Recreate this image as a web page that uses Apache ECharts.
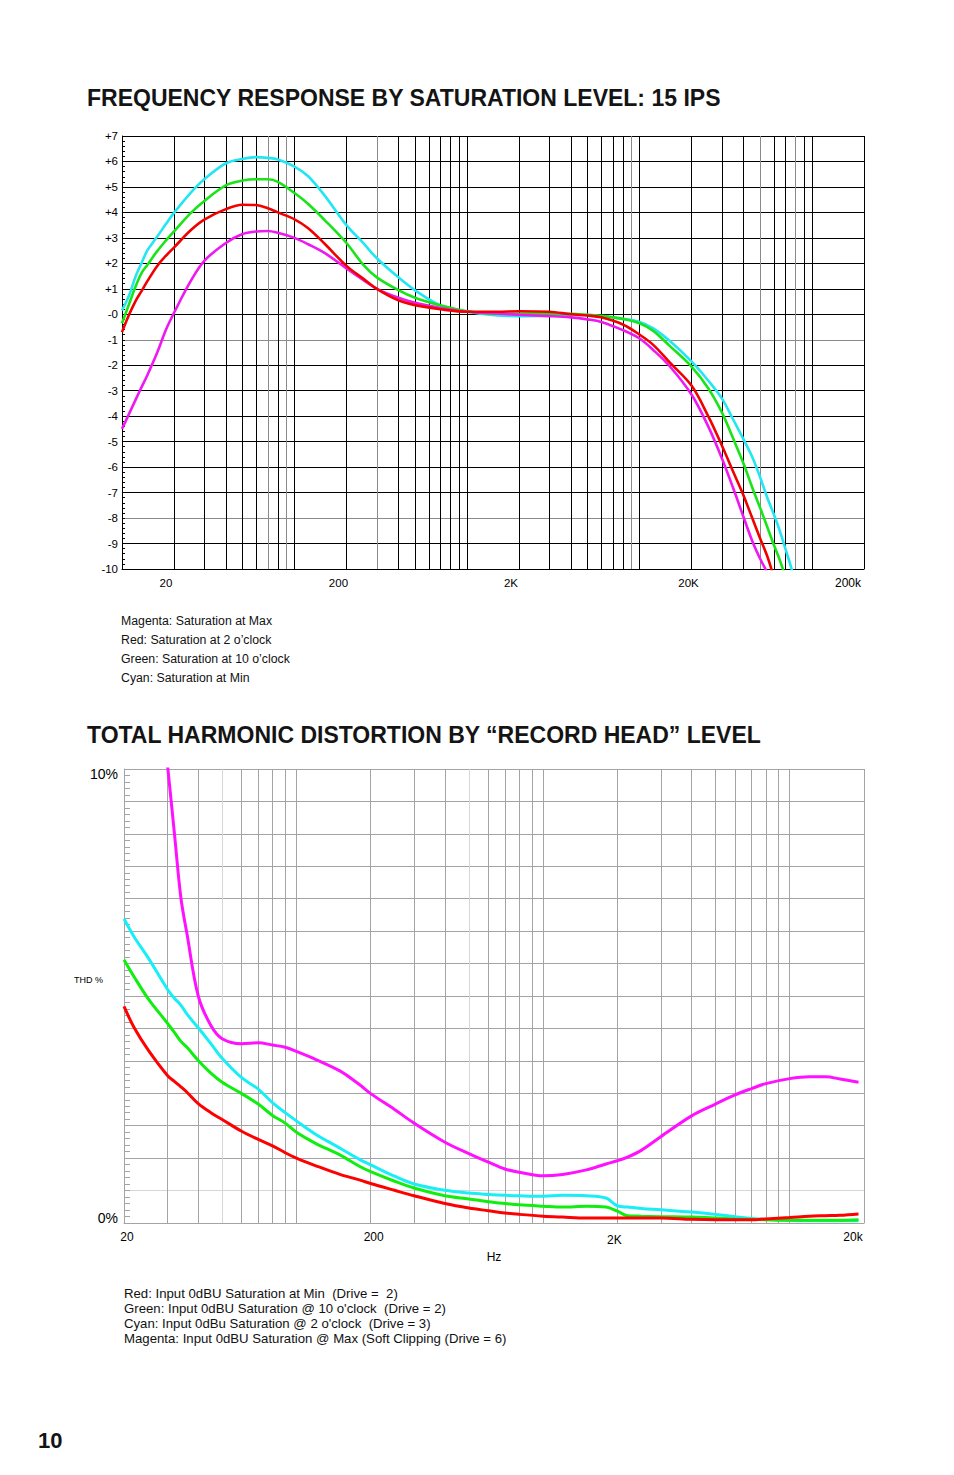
<!DOCTYPE html>
<html>
<head>
<meta charset="utf-8">
<script src="https://cdn.jsdelivr.net/npm/echarts@6/dist/echarts.min.js"></script>
<style>
html,body{margin:0;padding:0;background:#fff;}
#c{width:954px;height:1475px;}
</style>
</head>
<body>
<div id="c"></div>
<script>
// ---------------- Chart 1 : frequency response (dB) ----------------
const frFreqHz = [10, 11, 12, 13, 14, 16, 18, 20, 25, 30, 40, 50, 60, 70, 80, 100, 120, 150, 200, 250, 300, 400, 500, 700,
  1000, 1500, 2000, 3000, 4000, 5000, 6000, 8000, 10000, 12000, 15000, 20000, 25000, 30000, 35000, 40000, 45000,
  50000, 55000, 60000, 65000, 70000, 75000, 80000, 90000];
const frSatMin = [0.15, 0.75, 1.49, 2.02, 2.5, 3.05, 3.55, 3.98, 4.77, 5.3, 5.93, 6.1, 6.17, 6.14, 6.08, 5.8, 5.42, 4.65, 3.5, 2.8, 2.2, 1.45, 0.94, 0.35,
  0.1, -0.05, -0.07, -0.05, -0.02, -0.03, -0.08, -0.18, -0.3, -0.55, -1.05, -1.85, -2.6, -3.3, -4.15, -4.9, -5.6,
  -6.4, -7.2, -7.85, -8.5, -9.2, -9.85, -10.5, -11.6];
const frSat10 = [-0.35, 0.41, 1.1, 1.63, 1.93, 2.48, 2.9, 3.25, 3.97, 4.45, 5.06, 5.25, 5.3, 5.3, 5.2, 4.76, 4.33, 3.69, 2.8, 1.95, 1.45, 0.95, 0.65, 0.35,
  0.12, 0.02, 0.02, 0.03, 0.02, -0.02, -0.06, -0.18, -0.35, -0.65, -1.25, -2.05, -2.9, -3.85, -4.9, -5.85, -6.8,
  -7.6, -8.35, -9.05, -9.65, -10.3, -11, -11.6, -12.8];
const frSat2 = [-0.7, -0.01, 0.53, 0.92, 1.29, 1.9, 2.3, 2.62, 3.3, 3.72, 4.13, 4.3, 4.29, 4.16, 4.0, 3.73, 3.38, 2.76, 1.9, 1.4, 1.0, 0.55, 0.36, 0.2,
  0.1, 0.1, 0.12, 0.1, 0.0, -0.05, -0.12, -0.4, -0.8, -1.2, -1.9, -2.8, -4.0, -5.15, -6.2, -7.1, -8.0,
  -8.8, -9.5, -10.3, -11, -11.7, -12.3, -12.9, -14];
const frSatMax = [-4.5, -3.9, -3.35, -2.85, -2.4, -1.5, -0.6, 0.05, 1.3, 2.1, 2.8, 3.15, 3.25, 3.27, 3.2, 3.0, 2.75, 2.4, 1.8, 1.35, 1.0, 0.65, 0.45, 0.25,
  0.1, 0.03, -0.02, -0.07, -0.12, -0.2, -0.3, -0.62, -0.95, -1.4, -2.05, -3.15, -4.4, -5.65, -6.85, -7.95, -8.9,
  -9.6, -10.15, -10.9, -11.5, -12.1, -12.7, -13.2, -14.2];
const frGridHz = [10, 20, 30, 40, 50, 60, 70, 80, 90, 100, 200, 300, 400, 500, 600, 700, 800, 900, 1000,
  2000, 3000, 4000, 5000, 6000, 7000, 8000, 9000, 10000, 20000, 30000, 40000, 50000, 60000, 70000, 80000, 90000,
  100000, 200000];
const frXLabelHz = [20, 200, 2000, 20000, 200000];
const frXLabels = ['20', '200', '2K', '20K', '200k'];
const frYMin = -10, frYMax = 7;

// ---------------- Chart 2 : THD (%) ----------------
const thdFreqHz = [20, 22, 25, 30, 32, 34, 36, 40, 45, 50, 60, 70, 80, 90, 100, 120, 150, 180, 200, 250, 300, 400, 500, 600,
  700, 800, 1000, 1200, 1500, 1800, 2000, 2200, 2500, 3000, 4000, 5000, 6000, 7000, 8000, 10000, 12000, 14000, 16000, 19000];
const thdRed = [4.77, 4.3, 3.82, 3.25, 3.12, 3.0, 2.88, 2.63, 2.43, 2.28, 2.02, 1.84, 1.7, 1.55, 1.43, 1.26, 1.07, 0.95, 0.87, 0.72, 0.6, 0.43, 0.33, 0.27,
  0.22, 0.19, 0.15, 0.13, 0.11, 0.11, 0.11, 0.11, 0.11, 0.11, 0.08, 0.07, 0.07, 0.07, 0.09, 0.12, 0.15, 0.16, 0.17, 0.2];
const thdGreen = [5.8, 5.42, 4.95, 4.4, 4.2, 4.0, 3.87, 3.58, 3.3, 3.1, 2.85, 2.62, 2.37, 2.2, 2.0, 1.75, 1.5, 1.25, 1.13, 0.92, 0.77, 0.6, 0.53, 0.47,
  0.43, 0.4, 0.37, 0.35, 0.37, 0.35, 0.26, 0.16, 0.15, 0.14, 0.13, 0.11, 0.09, 0.08, 0.07, 0.06, 0.06, 0.06, 0.06, 0.07];
const thdCyan = [6.7, 6.3, 5.85, 5.15, 4.95, 4.8, 4.6, 4.3, 3.95, 3.63, 3.2, 2.95, 2.65, 2.43, 2.25, 1.95, 1.65, 1.4, 1.28, 1.03, 0.86, 0.72, 0.66, 0.63,
  0.61, 0.6, 0.59, 0.61, 0.6, 0.55, 0.38, 0.35, 0.32, 0.29, 0.24, 0.19, 0.14, 0.1, 0.08, 0.06, 0.05, 0.05, 0.05, 0.05];
const thdMagenta = [null, null, null, 10.1, 8.6, 7.17, 6.37, 5.0, 4.35, 4.06, 3.95, 3.97, 3.92, 3.87, 3.78, 3.6, 3.35, 3.05, 2.85, 2.5, 2.2, 1.78, 1.53, 1.34,
  1.19, 1.12, 1.04, 1.07, 1.17, 1.3, 1.37, 1.45, 1.6, 1.9, 2.36, 2.62, 2.82, 2.96, 3.07, 3.18, 3.22, 3.22, 3.17, 3.1];
const thdGridHz = [20, 30, 40, 50, 60, 70, 80, 90, 100, 200, 300, 400, 500, 600, 700, 800, 900, 1000,
  2000, 3000, 4000, 5000, 6000, 7000, 8000, 9000, 10000, 20000];
const thdXLabelHz = [20, 200, 2000, 20000];
const thdXLabels = ['20', '200', '2K', '20k'];
const thdYMax = 10, thdYDivisions = 14;
const thdYLabels = ['0%', '10%'];

// ---------------- Texts ----------------
const title1 = 'FREQUENCY RESPONSE BY SATURATION LEVEL: 15 IPS';
const title2 = 'TOTAL HARMONIC DISTORTION BY \u201CRECORD HEAD\u201D LEVEL';
const legend1 = ['Magenta: Saturation at Max', 'Red: Saturation at 2 o\u2019clock', 'Green: Saturation at 10 o\u2019clock', 'Cyan: Saturation at Min'];
const legend2 = ['Red: Input 0dBU Saturation at Min  (Drive =  2)', 'Green: Input 0dBU Saturation @ 10 o\'clock  (Drive = 2)',
  'Cyan: Input 0dBu Saturation @ 2 o\'clock  (Drive = 3)', 'Magenta: Input 0dBU Saturation @ Max (Soft Clipping (Drive = 6)'];
const thdAxisName = 'THD %';
const thdXName = 'Hz';
const pageNumber = '10';

// ---------------- Build ----------------
const FONT = '"Liberation Sans", Arial, Helvetica, sans-serif';
const lg = Math.log10;
const pair = (fs, vs) => fs.map((f, i) => [lg(f), vs[i]]);
function labelIdx(list, v) {
  for (let i = 0; i < list.length; i++) if (Math.abs(lg(list[i]) - v) < 1e-6) return i;
  return -1;
}
const BLACK = '#000000', DGRAY = '#8a8a8a', G2 = '#a4a4a4', G2L = '#d6d6d6';
const frGrayHz = [70, 90, 300, 9000, 50000, 80000];
const frYTickVals = []; for (let v = frYMin; v <= frYMax; v++) frYTickVals.push(v);
const COLORS = { cyan: '#22e6f2', green: '#18e418', red: '#f20000', magenta: '#f018f0' };

function lineSeries(ax, fs, vs, color, width) {
  return { type: 'line', xAxisIndex: ax, yAxisIndex: ax, data: pair(fs, vs), showSymbol: false, symbol: 'none',
    smooth: 0.35, connectNulls: false, clip: true, silent: true, z: 5,
    lineStyle: { color: color, width: width }, itemStyle: { color: color } };
}

const graphics = [
  { type: 'text', x: 87, y: 98, style: { text: title1, fill: '#141414', fontFamily: FONT, fontWeight: 'bold', fontSize: 23, verticalAlign: 'middle', textVerticalAlign: 'middle' } },
  { type: 'text', x: 87, y: 735, style: { text: title2, fill: '#141414', fontFamily: FONT, fontWeight: 'bold', fontSize: 23, verticalAlign: 'middle', textVerticalAlign: 'middle' } },
  { type: 'text', x: 38, y: 1440, style: { text: pageNumber, fill: '#141414', fontFamily: FONT, fontWeight: 'bold', fontSize: 22, verticalAlign: 'middle', textVerticalAlign: 'middle' } },
  { type: 'text', x: 74, y: 980, style: { text: thdAxisName, fill: '#000', fontFamily: FONT, fontSize: 9, verticalAlign: 'middle', textVerticalAlign: 'middle' } }
];
legend1.forEach((t, i) => graphics.push({ type: 'text', x: 121, y: 621 + i * 19,
  style: { text: t, fill: '#111', fontFamily: FONT, fontSize: 12.3, verticalAlign: 'middle', textVerticalAlign: 'middle' } }));
legend2.forEach((t, i) => graphics.push({ type: 'text', x: 124, y: 1293 + i * 15.3,
  style: { text: t, fill: '#111', fontFamily: FONT, fontSize: 13.2, verticalAlign: 'middle', textVerticalAlign: 'middle' } }));

const option = {
  animation: false,
  backgroundColor: '#ffffff',
  textStyle: { fontFamily: FONT },
  grid: [
    { left: 122, top: 136, width: 742, height: 433, containLabel: false, outerBoundsMode: 'none' },
    { left: 124, top: 769, width: 740, height: 454, containLabel: false, outerBoundsMode: 'none' }
  ],
  xAxis: [
    { gridIndex: 0, type: 'value', min: lg(10), max: lg(200000),
      axisLine: { show: true, onZero: false, lineStyle: { color: BLACK, width: 1 } },
      axisTick: { show: false, customValues: frGridHz.map(lg) },
      splitLine: { show: true, customValues: frGridHz.map(lg), lineStyle: { width: 1, color: frGridHz.map(f => frGrayHz.includes(f) ? DGRAY : BLACK) } },
      axisLabel: { show: true, customValues: frXLabelHz.map(lg), margin: 8, color: '#000', fontSize: 11.5, fontFamily: FONT,
        formatter: v => { const i = labelIdx(frXLabelHz, v); if (i < 0) return ''; return '{' + ['n', 'n', 'n', 'm', 'e'][i] + '|' + frXLabels[i] + '}'; },
        rich: { n: { padding: [0, 16, 0, 0], fontSize: 11.5, fontFamily: FONT, color: '#000' },
                m: { padding: [0, 6, 0, 0], fontSize: 11.5, fontFamily: FONT, color: '#000' },
                e: { padding: [0, 32, 0, 0], fontSize: 12, fontFamily: FONT, color: '#000' } } }
    },
    { gridIndex: 1, type: 'value', min: lg(20), max: lg(20000),
      name: thdXName, nameLocation: 'middle', nameGap: 28, nameTextStyle: { fontSize: 12, color: '#000', fontFamily: FONT },
      axisLine: { show: true, onZero: false, lineStyle: { color: G2, width: 1 } },
      axisTick: { show: false, customValues: thdGridHz.map(lg) },
      splitLine: { show: true, customValues: thdGridHz.map(lg), lineStyle: { width: 1, color: thdGridHz.map(f => (f === 50 || f === 500) ? G2L : G2) } },
      axisLabel: { show: true, customValues: thdXLabelHz.map(lg), margin: 8, color: '#000', fontSize: 12, fontFamily: FONT,
        formatter: v => { const i = labelIdx(thdXLabelHz, v); if (i < 0) return ''; const k = ['a', 'a', 'b', 'c'][i]; return '{' + k + '|' + thdXLabels[i] + '}'; },
        rich: { a: { padding: [0, 0, 0, 6], fontSize: 12, fontFamily: FONT, color: '#000' },
                b: { padding: [3, 6, 0, 0], fontSize: 12, fontFamily: FONT, color: '#000' },
                c: { padding: [0, 22, 0, 0], fontSize: 12, fontFamily: FONT, color: '#000' } } }
    }
  ],
  yAxis: [
    { gridIndex: 0, type: 'value', min: frYMin, max: frYMax, interval: 1,
      axisLine: { show: true, onZero: false, lineStyle: { color: BLACK, width: 1 } },
      axisTick: { show: true, inside: true, length: 3, lineStyle: { color: BLACK } },
      minorTick: { show: true, splitNumber: 5, length: 3, lineStyle: { color: BLACK } },
      splitLine: { show: true, lineStyle: { width: 1, color: frYTickVals.map(v => (v === -1 || v === -8) ? DGRAY : BLACK) } },
      axisLabel: { margin: 4, color: '#000', fontSize: 11.5, fontFamily: FONT,
        formatter: v => v > 0 ? '+' + v : (v === 0 ? '-0' : String(v)) }
    },
    { gridIndex: 1, type: 'value', min: 0, max: thdYMax, interval: thdYMax / thdYDivisions,
      axisLine: { show: true, onZero: false, lineStyle: { color: G2, width: 1 } },
      axisTick: { show: true, inside: true, length: 6, lineStyle: { color: G2 } },
      minorTick: { show: true, splitNumber: 5, length: 6, lineStyle: { color: G2 } },
      splitLine: { show: true, lineStyle: { width: 1, color: [G2, G2L, G2, G2, G2, G2, G2, G2, G2, G2, G2, G2, G2, G2, G2, G2] } },
      axisLabel: { margin: 6, color: '#000', fontSize: 14, fontFamily: FONT,
        formatter: v => v === 0 ? '{b|' + thdYLabels[0] + '}' : (v === thdYMax ? '{t|' + thdYLabels[1] + '}' : ''),
        rich: { t: { padding: [10, 0, 0, 0], fontSize: 14, fontFamily: FONT, color: '#000' },
                b: { padding: [0, 0, 10, 0], fontSize: 14, fontFamily: FONT, color: '#000' } } }
    }
  ],
  series: [
    lineSeries(0, frFreqHz, frSatMin, COLORS.cyan, 2.6),
    lineSeries(0, frFreqHz, frSat10, COLORS.green, 2.6),
    lineSeries(0, frFreqHz, frSatMax, COLORS.magenta, 2.6),
    lineSeries(0, frFreqHz, frSat2, COLORS.red, 2.6),
    lineSeries(1, thdFreqHz, thdCyan, '#18eef6', 3),
    lineSeries(1, thdFreqHz, thdGreen, '#10ee10', 3),
    lineSeries(1, thdFreqHz, thdMagenta, '#ff10ff', 3),
    lineSeries(1, thdFreqHz, thdRed, '#ff0000', 3)
  ],
  graphic: graphics
};

const chart = echarts.init(document.getElementById('c'), null, { renderer: 'svg', width: 954, height: 1475 });
chart.setOption(option);
</script>
</body>
</html>
